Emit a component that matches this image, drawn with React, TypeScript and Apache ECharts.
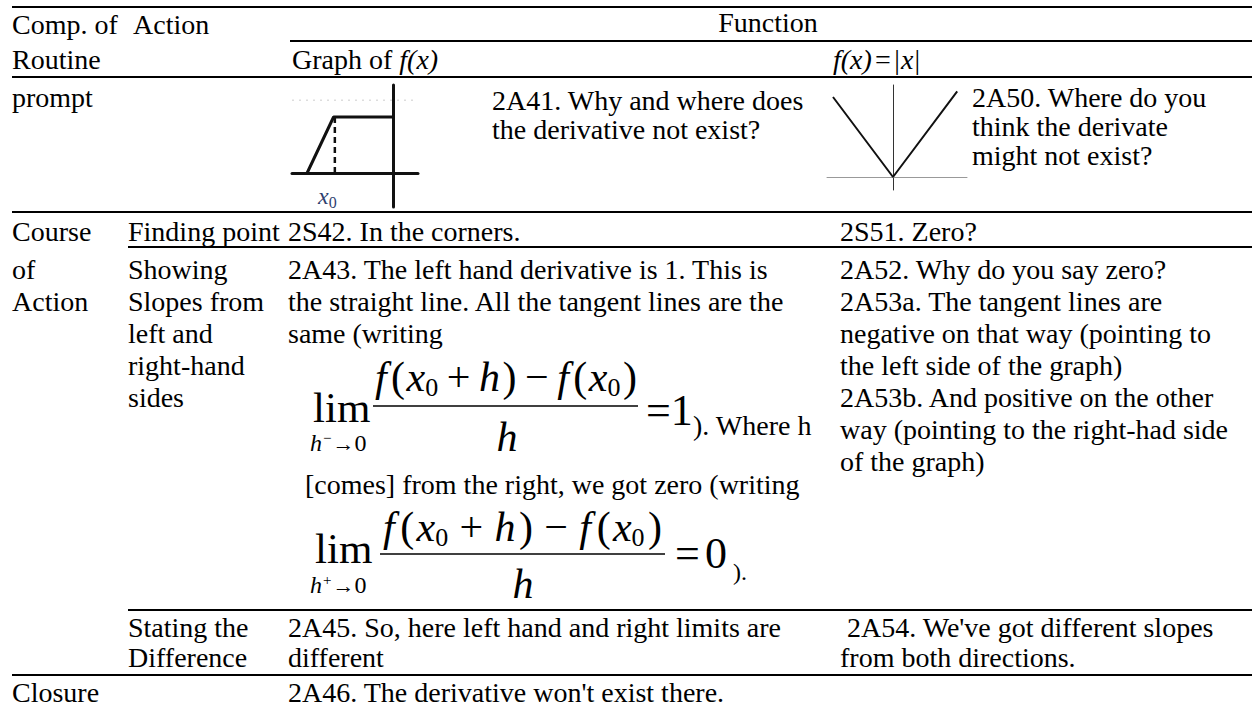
import React, { useEffect, useRef } from 'react';
import * as echarts from 'echarts';

// ---------- content ----------
const headerRow1 = ['Comp. of', 'Action', 'Function'];
const headerRow2 = ['Routine', 'Graph of '];
const promptLabel = 'prompt';
const prompt41 = ['2A41. Why and where does', 'the derivative not exist?'];
const prompt50 = ['2A50. Where do you', 'think the derivate', 'might not exist?'];
const courseLabel = ['Course', 'of', 'Action'];
const findingLabel = 'Finding point';
const finding42 = '2S42. In the corners.';
const finding51 = '2S51. Zero?';
const showingLabel = ['Showing', 'Slopes from', 'left and', 'right-hand', 'sides'];
const showing43 = [
  '2A43. The left hand derivative is 1. This is',
  'the straight line. All the tangent lines are the',
  'same (writing',
];
const showing43b = '[comes] from the right, we got zero (writing';
const showing43c = '). Where h';
const showing52 = [
  '2A52. Why do you say zero?',
  '2A53a. The tangent lines are',
  'negative on that way (pointing to',
  'the left side of the graph)',
  '2A53b. And positive on the other',
  'way (pointing to the right-had side',
  'of the graph)',
];
const statingLabel = ['Stating the', 'Difference'];
const stating45 = ['2A45. So, here left hand and right limits are', 'different'];
const stating54 = [" 2A54. We've got different slopes", 'from both directions.'];
const closureLabel = 'Closure';
const closure46 = "2A46. The derivative won't exist there.";

// ---------- small graph data ----------
const stepGraphX = [-3.4, -2.35, 0];
const stepGraphY = [0, 2, 2];
const x0Value = -2.3;
const plateauValue = 2;
const absGraphX = [-1, 0, 1.07];
const absGraphY = [1, 0, 1.07];

// ---------- layout ----------
const FONT = '"Liberation Serif", "Times New Roman", serif';
const BODY = 28;
const C1 = 12, C2 = 128, C3 = 288, C4 = 840, RIGHT = 1252;
const RULES: [number, number][] = [[7, 12], [41, 290], [77, 12], [212, 12], [247, 128], [610, 128], [675, 12]];

let ctx: CanvasRenderingContext2D | null = null;
function measure(t: string, size: number, italic: boolean) {
  if (!ctx) ctx = document.createElement('canvas').getContext('2d');
  if (!ctx) return t.length * size * 0.5;
  ctx.font = `${italic ? 'italic ' : ''}${size}px ${FONT}`;
  return ctx.measureText(t).width;
}

function txt(text: string, x: number, y: number, o: any = {}) {
  return {
    type: 'text', x, y, z: 10, silent: true,
    style: {
      text, fontSize: o.size || BODY, fontFamily: FONT,
      fontStyle: o.italic ? 'italic' : 'normal',
      fill: o.color || '#000', align: o.align || 'left', verticalAlign: 'middle',
    },
  };
}

type Tok = { t: string; s: number; i?: boolean; dy?: number; w?: number; c?: string; g?: number };
function seq(tokens: Tok[], x0: number, y: number, x1?: number) {
  const widths = tokens.map(k => measure(k.t, k.s, !!k.i));
  const total = widths.reduce((a, b) => a + b, 0);
  const weights = tokens.map((k, idx) => (idx === 0 ? 0 : k.w ?? 0.3));
  const wsum = weights.reduce((a, b) => a + b, 0);
  const extra = x1 !== undefined && wsum > 0 ? Math.max(0, x1 - x0 - total) : 0;
  let x = x0;
  return tokens.map((k, idx) => {
    x += (wsum > 0 ? (extra * weights[idx]) / wsum : 0) + (k.g || 0);
    const el = txt(k.t, x, y + (k.dy || 0), { size: k.s, italic: k.i, color: k.c });
    x += widths[idx];
    return el;
  });
}

function hline(y: number, x1: number, x2: number, w = 2) {
  return { type: 'line', z: 5, silent: true, shape: { x1, y1: y, x2, y2: y }, style: { stroke: '#000', lineWidth: w } };
}

const F = 42, SUB = 26;
function numerator(): Tok[] {
  return [
    { t: 'f', s: F, i: true },
    { t: '(', s: F, w: 0.5 },
    { t: 'x', s: F, i: true, w: 0.2 },
    { t: '0', s: SUB, dy: 10, w: 0 },
    { t: '+', s: F, w: 1 },
    { t: 'h', s: F, i: true, w: 1 },
    { t: ')', s: F, w: 0.3 },
    { t: '\u2212', s: F, w: 1 },
    { t: 'f', s: F, i: true, w: 1 },
    { t: '(', s: F, w: 0.5 },
    { t: 'x', s: F, i: true, w: 0.2 },
    { t: '0', s: SUB, dy: 10, w: 0 },
    { t: ')', s: F, w: 0.3 },
  ];
}
function limSub(sign: string): Tok[] {
  return [
    { t: 'h', s: 24, i: true },
    { t: sign, s: 15, dy: -5, g: 1 },
    { t: '\u2192', s: 22, g: 1 },
    { t: '0', s: 24, g: 0 },
  ];
}

function buildGraphics() {
  const els: any[] = [];
  RULES.forEach(([y, x]) => els.push(hline(y, x, RIGHT)));

  // header
  els.push(txt(headerRow1[0], C1, 24), txt(headerRow1[1], 133, 24), txt(headerRow1[2], 768, 22, { align: 'center' }));
  els.push(txt(headerRow2[0], C1, 59), txt(headerRow2[1], 292, 59));
  els.push(txt('f(x)', 292 + measure(headerRow2[1], BODY, false), 59, { italic: true }));
  els.push(...seq([
    { t: 'f(x)', s: BODY, i: true },
    { t: '=', s: BODY, w: 0.3 },
    { t: '|', s: BODY, w: 0.3 },
    { t: 'x', s: BODY, i: true, w: 0.1 },
    { t: '|', s: BODY, w: 0.1 },
  ], 833, 59, 920));

  // prompt row
  els.push(txt(promptLabel, C1, 97));
  prompt41.forEach((s, i) => els.push(txt(s, 492, 100 + 29 * i)));
  prompt50.forEach((s, i) => els.push(txt(s, 972, 97 + 29 * i)));
  els.push(...seq([
    { t: 'x', s: 24, i: true, c: '#2f3f6f' },
    { t: '0', s: 16, dy: 6, c: '#2f3f6f' },
  ], 318, 196));

  // course row
  els.push(txt(courseLabel[0], C1, 231), txt(findingLabel, C2, 231), txt(finding42, C3, 231), txt(finding51, C4, 231));

  // showing row
  const ys = (start: number, n: number, step: number) => Array.from({ length: n }, (_, i) => start + step * i);
  const rowY = ys(269, 7, 32);
  els.push(txt(courseLabel[1], C1, rowY[0]), txt(courseLabel[2], C1, rowY[1]));
  showingLabel.forEach((s, i) => els.push(txt(s, C2, rowY[i])));
  showing43.forEach((s, i) => els.push(txt(s, C3, rowY[i])));
  showing52.forEach((s, i) => els.push(txt(s, C4, rowY[i])));

  // formula 1
  els.push(txt('lim', 313, 407, { size: 43 }));
  els.push(...seq(limSub('\u2212'), 310, 443));
  els.push(...seq(numerator(), 375, 377, 637));
  els.push(hline(406, 373, 638, 1.6));
  els.push(txt('h', 507, 437, { size: F, italic: true, align: 'center' }));
  els.push(...seq([{ t: '=', s: 44 }, { t: '1', s: 44, w: 0.1 }], 646, 410, 690));
  els.push(txt(showing43c, 693, 425));

  els.push(txt(showing43b, 305, 484));

  // formula 2
  els.push(txt('lim', 315, 548, { size: 43 }));
  els.push(...seq(limSub('+'), 310, 585));
  els.push(...seq(numerator(), 383, 527, 662));
  els.push(hline(554, 380, 665, 1.6));
  els.push(txt('h', 523, 584, { size: F, italic: true, align: 'center' }));
  els.push(...seq([{ t: '=', s: 44 }, { t: '0', s: 44, w: 1 }], 675, 553, 727));
  els.push(txt(').', 733, 572, { size: 24 }));

  // stating row
  const stY = [627, 657];
  statingLabel.forEach((s, i) => els.push(txt(s, C2, stY[i])));
  stating45.forEach((s, i) => els.push(txt(s, C3, stY[i])));
  stating54.forEach((s, i) => els.push(txt(s, C4, stY[i])));

  // closure
  els.push(txt(closureLabel, C1, 692), txt(closure46, C3, 692));
  return els;
}

const zip = (a: number[], b: number[]) => a.map((v, i) => [v, b[i]]);
const hiddenAxisBits = { axisTick: { show: false }, axisLabel: { show: false }, splitLine: { show: false } };

export default function App() {
  const ref = useRef<HTMLDivElement>(null);
  useEffect(() => {
    document.body.style.margin = '0';
    if (!ref.current) return;
    const chart = echarts.init(ref.current, undefined, { renderer: 'svg' });
    chart.setOption({
      animation: false,
      backgroundColor: '#fff',
      grid: [
        { left: 292, top: 85, width: 126, height: 122 },
        { left: 827, top: 85, width: 140, height: 105 },
      ],
      xAxis: [
        { gridIndex: 0, type: 'value', min: -4, max: 1, axisLine: { show: true, onZero: true, lineStyle: { color: '#111', width: 3 } }, ...hiddenAxisBits },
        { gridIndex: 1, type: 'value', min: -1.1, max: 1.2333, axisLine: { show: true, onZero: true, lineStyle: { color: '#999', width: 1 } }, ...hiddenAxisBits },
      ],
      yAxis: [
        { gridIndex: 0, type: 'value', min: -1.214, max: 3.143, axisLine: { show: true, onZero: true, lineStyle: { color: '#111', width: 3 } }, ...hiddenAxisBits },
        { gridIndex: 1, type: 'value', min: -0.1625, max: 1.15, axisLine: { show: true, onZero: true, lineStyle: { color: '#333', width: 1 } }, ...hiddenAxisBits },
      ],
      series: [
        { type: 'line', xAxisIndex: 0, yAxisIndex: 0, data: zip(stepGraphX, stepGraphY), symbol: 'none', lineStyle: { color: '#111', width: 3 }, silent: true },
        { type: 'line', xAxisIndex: 0, yAxisIndex: 0, data: [[x0Value, plateauValue], [x0Value, 0]], symbol: 'none', lineStyle: { color: '#111', width: 2.5, type: [6, 4] }, silent: true },
        { type: 'line', xAxisIndex: 0, yAxisIndex: 0, data: [[-4, 2.6], [1, 2.6]], symbol: 'none', lineStyle: { color: '#ddd', width: 1.5, type: [2, 5] }, silent: true },
        { type: 'line', xAxisIndex: 1, yAxisIndex: 1, data: zip(absGraphX, absGraphY), symbol: 'none', lineStyle: { color: '#111', width: 2 }, silent: true },
      ],
      graphic: { elements: buildGraphics() },
    });
    return () => chart.dispose();
  }, []);
  return <div ref={ref} style={{ width: 1255, height: 711, background: '#fff' }} />;
}
